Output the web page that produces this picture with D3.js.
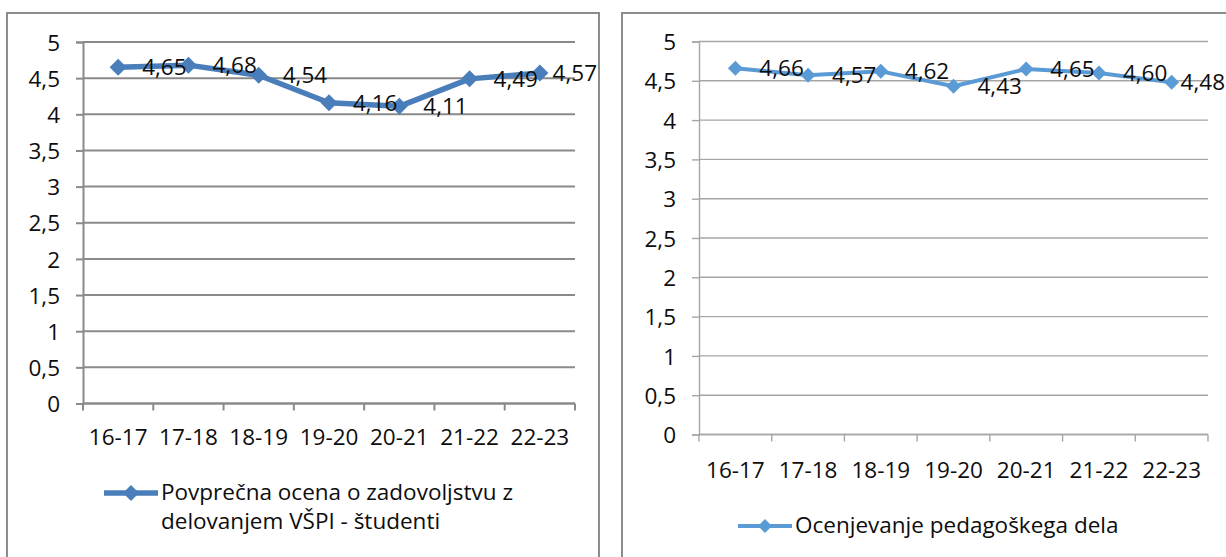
<!DOCTYPE html>
<html>
<head>
<meta charset="utf-8">
<script src="https://cdn.jsdelivr.net/npm/d3@7"></script>
<style>
  body { margin: 0; background: #fff; }
  svg text { font-family: "Open Sans", sans-serif; fill: #0d0d0d; }
</style>
</head>
<body>
<svg id="chart" width="1226" height="557"></svg>
<script>
// school years on the x axis
const years = ["16-17", "17-18", "18-19", "19-20", "20-21", "21-22", "22-23"];
// left chart: student satisfaction
const satisfaction = [4.65, 4.68, 4.54, 4.16, 4.11, 4.49, 4.57];
// right chart: teaching evaluation
const teaching = [4.66, 4.57, 4.62, 4.43, 4.65, 4.60, 4.48];
const yTicks = [0, 0.5, 1, 1.5, 2, 2.5, 3, 3.5, 4, 4.5, 5];
const legendLeft = ["Povprečna ocena o zadovoljstvu z", "delovanjem VŠPI - študenti"];
const legendRight = ["Ocenjevanje pedagoškega dela"];

const svg = d3.select("#chart");
const comma = d => String(d).replace(".", ",");
const fmt2 = d => d3.format(".2f")(d).replace(".", ",");
const fs = "22.5px";

function drawChart(cfg) {
  const g = svg.append("g");

  // outer frame
  g.append("rect")
    .attr("x", cfg.frame[0]).attr("y", cfg.frame[1])
    .attr("width", cfg.frame[2] - cfg.frame[0]).attr("height", 600)
    .attr("fill", "none").attr("stroke", "#8c8c8c").attr("stroke-width", 2);

  const x = d3.scaleBand().domain(years).range([cfg.left, cfg.right]).padding(0);
  const y = d3.scaleLinear().domain([0, 5]).range([cfg.bottom, cfg.top]);

  // gridlines
  g.selectAll(".grid").data(yTicks).enter().append("line")
    .attr("x1", cfg.left).attr("x2", cfg.right)
    .attr("y1", d => y(d)).attr("y2", d => y(d))
    .attr("stroke", cfg.gridColor).attr("stroke-width", cfg.gridWidth);

  // y axis
  const ya = g.append("g")
    .attr("transform", `translate(${cfg.left},0)`)
    .call(d3.axisLeft(y).tickValues(yTicks).tickFormat(comma).tickSize(7).tickPadding(16));
  ya.select(".domain").attr("stroke", cfg.gridColor).attr("stroke-width", cfg.gridWidth);
  ya.selectAll(".tick line").attr("stroke", cfg.gridColor).attr("stroke-width", cfg.gridWidth);
  ya.selectAll("text").style("font-size", fs).attr("dy", "0.36em");

  // x axis: labels centred, ticks between categories
  const xa = g.append("g")
    .attr("transform", `translate(0,${cfg.bottom})`)
    .call(d3.axisBottom(x).tickSize(0).tickPadding(cfg.xPad));
  xa.select(".domain").remove();
  xa.selectAll("text").style("font-size", fs).attr("dy", "0");
  g.selectAll(".xtick").data(d3.range(years.length + 1)).enter().append("line")
    .attr("x1", i => cfg.left + i * x.step()).attr("x2", i => cfg.left + i * x.step())
    .attr("y1", cfg.bottom).attr("y2", cfg.bottom + 7)
    .attr("stroke", cfg.gridColor).attr("stroke-width", cfg.gridWidth);
  g.append("line")
    .attr("x1", cfg.left).attr("x2", cfg.right)
    .attr("y1", cfg.bottom).attr("y2", cfg.bottom)
    .attr("stroke", cfg.gridColor).attr("stroke-width", cfg.gridWidth);

  const cx = (d, i) => x(years[i]) + x.bandwidth() / 2;
  const line = d3.line().x(cx).y(d => y(d));
  g.append("path").datum(cfg.values)
    .attr("d", line).attr("fill", "none")
    .attr("stroke", cfg.color).attr("stroke-width", cfg.lineWidth)
    .attr("stroke-linejoin", "round");

  const diamond = s => `M0,${-s}L${s},0L0,${s}L${-s},0Z`;
  g.selectAll(".pt").data(cfg.values).enter().append("path")
    .attr("d", diamond(cfg.marker))
    .attr("transform", (d, i) => `translate(${cx(d, i)},${y(d)})`)
    .attr("fill", cfg.color);

  // data labels to the right of each point, kept inside the visible frame
  g.selectAll(".lbl").data(cfg.values).enter().append("text")
    .text(fmt2)
    .style("font-size", fs)
    .attr("y", d => y(d)).attr("dy", "0.36em")
    .attr("x", function(d, i) {
      const w = this.getComputedTextLength();
      return Math.min(cx(d, i) + 24, cfg.labelLimit - w);
    });

  // legend
  const lg = g.append("g");
  lg.append("line")
    .attr("x1", cfg.legend[0]).attr("x2", cfg.legend[0] + cfg.legendLen)
    .attr("y1", cfg.legend[1]).attr("y2", cfg.legend[1])
    .attr("stroke", cfg.color).attr("stroke-width", cfg.lineWidth);
  lg.append("path")
    .attr("d", diamond(cfg.marker - 0.5))
    .attr("transform", `translate(${cfg.legend[0] + cfg.legendLen / 2},${cfg.legend[1]})`)
    .attr("fill", cfg.color);
  lg.selectAll("text").data(cfg.legendText).enter().append("text")
    .text(d => d)
    .style("font-size", fs)
    .attr("x", cfg.legend[0] + cfg.legendLen + 3)
    .attr("y", (d, i) => cfg.legend[1] + 7 + i * 29);
}

drawChart({
  frame: [7, 13, 599], left: 83, right: 575, top: 42, bottom: 403.5,
  values: satisfaction, color: "#4a7ebb", lineWidth: 5.5, marker: 8.5,
  gridColor: "#8a8a8a", gridWidth: 2, xPad: 41, labelLimit: 597,
  legend: [104, 493], legendLen: 54, legendText: legendLeft
});

drawChart({
  frame: [622, 13, 1240], left: 699, right: 1208, top: 41.5, bottom: 434.5,
  values: teaching, color: "#5b9bd5", lineWidth: 4, marker: 7.5,
  gridColor: "#a6a6a6", gridWidth: 1.4, xPad: 43, labelLimit: 1225,
  legend: [738, 526], legendLen: 54, legendText: legendRight
});
</script>
</body>
</html>
